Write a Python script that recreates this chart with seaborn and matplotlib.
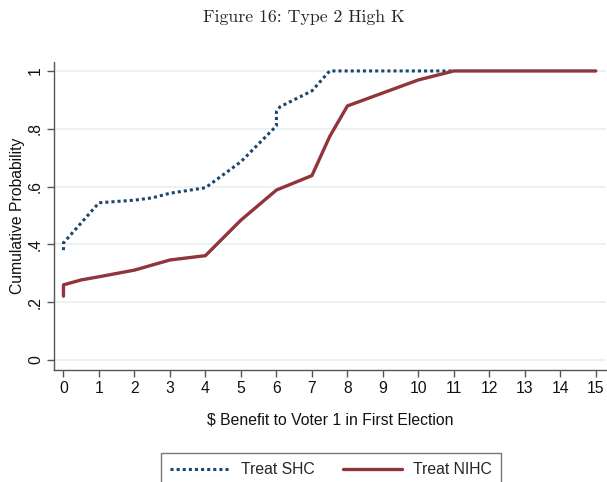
import matplotlib
matplotlib.use("Agg")
import matplotlib.pyplot as plt
import seaborn as sns
import pandas as pd
import numpy as np

# Data
shc_x = [0, 0, 1, 2, 2.5, 3, 4, 5, 6, 6, 6.1, 7, 7.5, 11]
shc_y = [0.38, 0.405, 0.544, 0.553, 0.561, 0.577, 0.596, 0.686, 0.81, 0.859, 0.876, 0.931, 1.0, 1.0]
nihc_x = [0, 0, 0.5, 1, 2, 3, 4, 5, 6, 7, 7.5, 8, 10, 11, 15]
nihc_y = [0.221, 0.26, 0.277, 0.288, 0.311, 0.346, 0.361, 0.484, 0.588, 0.638, 0.773, 0.879, 0.969, 1.0, 1.0]
series_names = ["Treat SHC", "Treat NIHC"]
x_ticks = list(range(0, 16))
y_ticks = [0, 0.2, 0.4, 0.6, 0.8, 1.0]
y_ticklabels = ["0", ".2", ".4", ".6", ".8", "1"]

df = pd.concat([
    pd.DataFrame({"x": shc_x, "y": shc_y, "series": series_names[0]}),
    pd.DataFrame({"x": nihc_x, "y": nihc_y, "series": series_names[1]}),
], ignore_index=True)

sns.set_theme(style="white")
plt.rcParams["font.family"] = ["Liberation Sans", "DejaVu Sans"]

fig = plt.figure(figsize=(6.07, 4.82), dpi=100)
ax = fig.add_axes([54/607, 112/482, 1 - 54/607 - 0.002, (370-62)/482])

navy = "#1a476f"
maroon = "#90353b"
FS = 11.3
DOT = [1.0, 1.0]

# grid
for yv in y_ticks:
    ax.axhline(yv, color="#e6eff1", lw=1.1, zorder=0)

sns.lineplot(data=df[df.series == series_names[1]], x="x", y="y", sort=False, estimator=None,
             color=maroon, lw=2.4, ax=ax, legend=False, zorder=3)
sns.lineplot(data=df[df.series == series_names[0]], x="x", y="y", sort=False, estimator=None,
             color=navy, lw=2.2, ax=ax, legend=False, zorder=2)
ax.lines[-1].set_dashes(DOT)
ax.lines[-1].set_dash_capstyle("butt")

ax.set_xlim(-0.267, 15.28)
ax.set_ylim(-0.0346, 1.031)
ax.set_xticks(x_ticks)
ax.set_xticklabels([str(v) for v in x_ticks], fontsize=FS)
ax.set_yticks(y_ticks)
ax.set_yticklabels(y_ticklabels, rotation=90, va="center", fontsize=FS)

for s in ["top", "right"]:
    ax.spines[s].set_visible(False)
for s in ["left", "bottom"]:
    ax.spines[s].set_color("#555555")
    ax.spines[s].set_linewidth(1.0)
ax.tick_params(axis="both", which="major", length=5, width=1, color="#555555",
               bottom=True, left=True, pad=3, labelcolor="#111111")

ax.set_xlabel(r"\$ Benefit to Voter 1 in First Election", fontsize=FS, labelpad=12, color="#111111")
ax.set_ylabel("Cumulative Probability", fontsize=FS, labelpad=2, color="#111111")

from matplotlib.lines import Line2D
handles = [Line2D([], [], color=navy, lw=2.2, dashes=DOT, dash_capstyle="butt"),
           Line2D([], [], color=maroon, lw=2.4)]
leg = fig.legend(handles, series_names, loc="upper center", bbox_to_anchor=(331/607, 1 - 453/482),
                 ncol=2, frameon=True, fancybox=False, fontsize=FS, handlelength=3.8,
                 columnspacing=1.8, borderpad=0.6, handletextpad=0.7, edgecolor="#555555",
                 borderaxespad=0)
leg.get_frame().set_linewidth(1.0)

fig.text(0.5, 1 - 17/482, "Figure 16: Type 2 High K", ha="center", va="center",
         fontsize=12.8, family=["cmr10", "DejaVu Serif"])

fig.savefig("out.png", dpi=100, facecolor="white")
